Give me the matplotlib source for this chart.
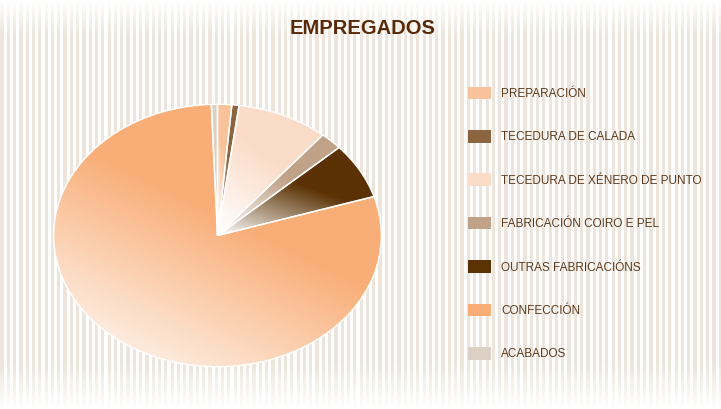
import numpy as np
import matplotlib
matplotlib.use("Agg")
import matplotlib.pyplot as plt
from matplotlib.patches import Patch

# datos (porcentaxe de empregados por actividade)
labels = ["PREPARACIÓN", "TECEDURA DE CALADA", "TECEDURA DE XÉNERO DE PUNTO",
          "FABRICACIÓN COIRO E PEL", "OUTRAS FABRICACIÓNS", "CONFECCIÓN", "ACABADOS"]
values = [1.4, 0.7, 9.0, 2.2, 6.9, 79.2, 0.6]
colors = ["#f8c39b", "#8b6540", "#fbdcc8", "#c0a288", "#5b3204", "#f9ae78", "#dcd0c4"]

W, H = 721, 409

fig = plt.figure(figsize=(W / 100, H / 100), dpi=100)

# fondo de raias verticais
bg = fig.add_axes([0, 0, 1, 1])
bg.set_axis_off()
xs = np.arange(W)
ys = np.arange(H)
stripe = ((xs % 6.3) < 3.2).astype(float)
fade = np.clip(np.minimum(ys / 35.0, (H - ys) / 45.0), 0, 1)
a = np.outer(fade, stripe)
base = np.array([0.93, 0.90, 0.86])
img = 1 - a[..., None] * (1 - base)
bg.imshow(img, extent=[0, W, H, 0], aspect="auto", interpolation="nearest")
bg.set_xlim(0, W)
bg.set_ylim(H, 0)

# torta (elíptica)
ax = fig.add_axes([52 / W, (H - 368) / H, 331 / W, 265 / H])
wedges, _ = ax.pie(values, colors=colors, startangle=90, counterclock=False,
                   radius=1, wedgeprops=dict(edgecolor="white", linewidth=1.0))
ax.set_aspect("auto")
ax.set_axis_off()

for w, c in zip(wedges, colors):
    bb = w.get_path().get_extents(w.get_patch_transform())
    x0, y0, x1, y1 = bb.x0, bb.y0, bb.x1, bb.y1
    gx, gy = np.meshgrid(np.linspace(0, 1, 120), np.linspace(1, 0, 120))
    t = np.clip((0.55 * gx + 0.9 * gy) * 1.25, 0, 1)
    rgb = np.array(matplotlib.colors.to_rgb(c))
    grad = 1 - t[..., None] * (1 - rgb)
    im = ax.imshow(grad, extent=[x0, x1, y0, y1], aspect="auto", zorder=w.get_zorder() + 0.1)
    im.set_clip_path(w)
    w.set_facecolor("none")
    w.set_zorder(w.get_zorder() + 0.2)

ax.set_xlim(-1.01, 1.01)
ax.set_ylim(-1.01, 1.01)

fig.text(363 / W, 1 - 28 / H, "EMPREGADOS", ha="center", va="center",
         fontsize=14.5, fontweight="bold", color="#5a2a08", family="Liberation Sans")

handles = [Patch(facecolor=c, edgecolor="none") for c in colors]
leg = fig.legend(handles, labels, loc="upper left", bbox_to_anchor=(457 / W, 1 - 76 / H),
                 frameon=False, handlelength=2.0, handleheight=1.25, handletextpad=0.85,
                 labelspacing=2.56, prop={"family": "Liberation Sans", "size": 8.5})
for t in leg.get_texts():
    t.set_color("#5c3a1e")

fig.savefig("out.png", dpi=100)
